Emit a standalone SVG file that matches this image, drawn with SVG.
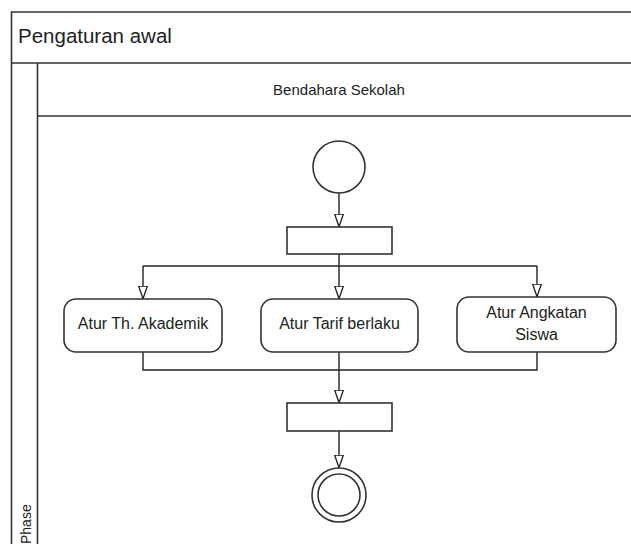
<svg xmlns="http://www.w3.org/2000/svg" width="631" height="544" viewBox="0 0 631 544">
<style>
.ln{fill:none;stroke:#333;stroke-width:1.6}
.nd{fill:#fff;stroke:#333;stroke-width:1.6}
.t{font-family:"Liberation Sans",Arial,sans-serif;fill:#222;text-anchor:middle}
.cn{fill:none;stroke:#222;stroke-width:1.4}
</style>
<defs>
<marker id="ah" viewBox="0 0 14 10" refX="13.5" refY="5" markerWidth="14" markerHeight="10" markerUnits="userSpaceOnUse" orient="auto">
<path d="M0.7,0.7 L13.3,5 L0.7,9.3 z" fill="#fff" stroke="#222" stroke-width="1.3"/>
</marker>
</defs>
<rect width="631" height="544" fill="#fff"/>
<g id="frame">
<path class="ln" d="M631,12 H11.5 V544"/>
<path class="ln" d="M11.5,63 H631"/>
<path class="ln" d="M37.5,63 V544"/>
<path class="ln" d="M37.5,116 H631"/>
<text x="18" y="43" font-family="Liberation Sans,Arial,sans-serif" font-size="20.5" fill="#222">Pengaturan awal</text>
<text class="t" x="339" y="95" font-size="15">Bendahara Sekolah</text>
<text x="31" y="544" font-family="Liberation Sans,Arial,sans-serif" font-size="14" fill="#222" transform="rotate(-90 31 544)">Phase</text>
</g>
<g id="connectors">
<path class="cn" d="M339,193 V227" marker-end="url(#ah)"/>
<path class="cn" d="M339,254 V266"/>
<path class="cn" d="M143,266 H537"/>
<path class="cn" d="M143,266 V299" marker-end="url(#ah)"/>
<path class="cn" d="M339,266 V299" marker-end="url(#ah)"/>
<path class="cn" d="M537,266 V297" marker-end="url(#ah)"/>
<path class="cn" d="M143,352 V370 H537 V352"/>
<path class="cn" d="M339,352 V403" marker-end="url(#ah)"/>
<path class="cn" d="M339,431 V468" marker-end="url(#ah)"/>
</g>
<g id="start">
<circle class="nd" cx="339" cy="167" r="26"/>
</g>
<g id="fork">
<rect class="nd" x="287" y="227" width="105" height="27"/>
</g>
<g id="atur-th-akademik">
<rect class="nd" x="64" y="299" width="158" height="53" rx="12"/>
<text class="t" x="143" y="329" font-size="16">Atur Th. Akademik</text>
</g>
<g id="atur-tarif">
<rect class="nd" x="261" y="299" width="157" height="53" rx="12"/>
<text class="t" x="339.5" y="329" font-size="16">Atur Tarif berlaku</text>
</g>
<g id="atur-angkatan">
<rect class="nd" x="457" y="297" width="159" height="55" rx="12"/>
<text class="t" x="536.5" y="318" font-size="16">Atur Angkatan</text>
<text class="t" x="536.5" y="340" font-size="16">Siswa</text>
</g>
<g id="join">
<rect class="nd" x="287" y="403" width="105" height="28"/>
</g>
<g id="end">
<circle class="nd" cx="339" cy="495" r="27"/>
<circle class="nd" cx="339" cy="495" r="21"/>
</g>
</svg>
